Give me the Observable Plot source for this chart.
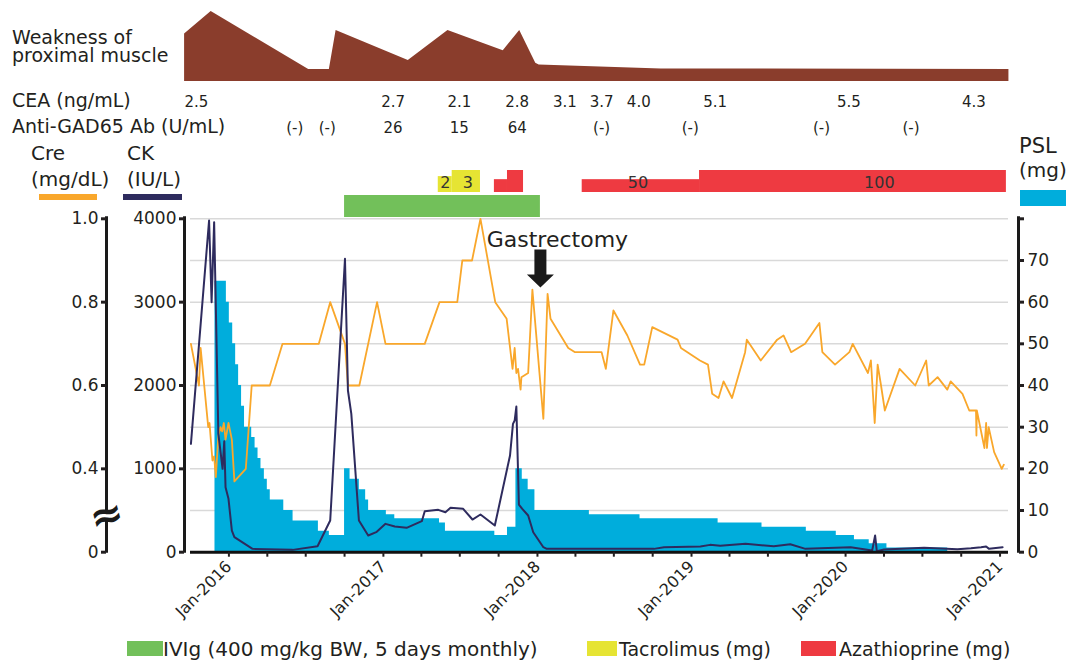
<!DOCTYPE html>
<html><head><meta charset="utf-8">
<script src="https://cdn.jsdelivr.net/npm/d3@7"></script>
<script src="https://cdn.jsdelivr.net/npm/@observablehq/plot@0.6"></script>
<style>
body{margin:0;background:#fff;}
#fig{position:relative;width:1071px;height:661px;overflow:hidden;font-family:"DejaVu Sans",sans-serif;color:#231f20;background:#fff}
.lbl{position:absolute;white-space:nowrap;line-height:1;color:#231f20;font-family:"DejaVu Sans",sans-serif}
.sw{position:absolute}
</style></head><body><div id="fig"></div>
<script>
// ---------------- DATA ----------------
const xDomain = ["2015-10-02", "2021-01-21"];

// Weakness of proximal muscle (relative score 0-10)
const weakDates = ["2015-09-18","2015-11-20","2016-07-08","2016-08-26","2016-09-11","2017-03-01","2017-06-03","2017-10-12","2017-11-20","2017-12-28","2018-01-05","2018-10-21","2021-01-22"];
const weakScore = [6.8, 10, 1.7, 1.7, 7.3, 3.0, 7.3, 4.4, 7.3, 2.6, 2.35, 1.8, 1.7];

// CEA (ng/mL)
const ceaDates = ["2015-10-16","2017-01-24","2017-06-30","2017-11-14","2018-03-07","2018-06-02","2018-08-29","2019-02-26","2020-01-09","2020-10-31"];
const ceaValues = [2.5, 2.7, 2.1, 2.8, 3.1, 3.7, 4.0, 5.1, 5.5, 4.3];

// Anti-GAD65 Ab (U/mL); null = negative
const gadDates = ["2016-06-05","2016-08-21","2017-01-24","2017-06-30","2017-11-14","2018-06-02","2018-12-29","2019-11-05","2020-06-04"];
const gadValues = [null, null, 26, 15, 64, null, null, null, null];

// Tacrolimus (mg)
const tacStart = ["2017-05-11","2017-06-13"];
const tacEnd   = ["2017-06-13","2017-08-19"];
const tacDose  = [2, 3];
const tacLabelDates = ["2017-05-28","2017-07-20"];

// Azathioprine (mg)
const azaStart = ["2017-09-21","2017-10-22","2018-04-17","2019-01-20"];
const azaEnd   = ["2017-10-22","2017-11-29","2019-01-20","2021-01-16"];
const azaDose  = [50, 100, 50, 100];
const azaLabelDates = ["2018-08-27","2020-03-21"];
const azaLabelDose  = [50, 100];

// IVIg period
const ivigStart = ["2016-10-01"];
const ivigEnd   = ["2018-01-08"];

// PSL (mg) step doses
const pslStart = ["2015-11-29","2015-12-26","2016-01-02","2016-01-10","2016-01-17","2016-01-24","2016-01-31","2016-02-07","2016-02-24","2016-03-03","2016-03-10","2016-03-17","2016-03-25","2016-04-01","2016-04-08","2016-05-10","2016-06-01","2016-07-31","2016-08-26",
 "2016-10-01","2016-10-14","2016-11-05","2016-11-20","2016-11-27","2017-01-08","2017-01-28","2017-05-14","2017-05-28","2017-09-22","2017-10-22",
 "2017-11-11","2017-11-26","2017-12-10","2017-12-26","2018-05-04","2018-09-01","2019-03-05","2019-06-17","2019-09-30","2019-12-10","2020-01-22","2020-02-26","2020-04-08"];
const pslDose = [65,60,55,50,45,40,35,30,27.5,25,22.5,20,17.5,15,12.5,10,7.5,5,4,
 20,17.5,15,12.5,10,9,8,7,5,4,6,
 20,17.5,15,10,9,8,7,6,5,4,3,2,1];
const pslStop = "2020-08-30";

// CK (IU/L)
const ckDates = ["2015-10-03","2015-11-15","2015-11-21","2015-11-27","2015-12-07","2015-12-17","2015-12-21","2015-12-24","2015-12-31","2016-01-08","2016-01-14","2016-02-26","2016-05-31","2016-07-29","2016-08-28",
 "2016-10-02","2016-10-09","2016-10-17","2016-11-04","2016-11-26","2016-12-15","2017-01-06","2017-01-28","2017-02-25","2017-04-02","2017-04-09","2017-05-11","2017-05-28","2017-06-09","2017-07-09","2017-07-31","2017-08-19","2017-09-22",
 "2017-10-28","2017-11-04","2017-11-08","2017-11-12","2017-11-18","2017-11-26","2017-12-10","2017-12-22","2018-01-15","2018-01-23","2018-10-04","2018-10-28","2019-01-22","2019-02-14","2019-03-10","2019-05-09","2019-07-15","2019-08-23","2019-09-28",
 "2020-01-13","2020-03-04","2020-03-11","2020-03-15","2020-04-01","2020-07-05","2020-09-22","2020-10-24","2020-11-17","2020-11-29","2020-12-06","2021-01-07"];
const ckValues = [1300,3980,3000,3960,1420,1000,1330,780,640,260,180,40,28,72,380,
 3520,1940,1660,380,200,240,340,308,292,372,492,508,480,532,520,392,452,320,
 1160,1540,1580,1748,572,520,440,240,60,40,40,60,68,88,76,100,72,96,40,
 60,20,200,12,32,52,36,48,60,68,40,60];

// Cre (mg/dL)
const creDates = ["2015-10-03","2015-10-22","2015-10-26","2015-11-13","2015-11-16","2015-11-23","2015-11-27","2015-12-01","2015-12-07","2015-12-12","2015-12-16","2015-12-20","2015-12-24","2015-12-31","2016-01-08","2016-01-14","2016-02-10","2016-02-24","2016-04-07","2016-05-07","2016-08-01","2016-08-28","2016-10-02","2016-10-09","2016-11-05","2016-12-17",
 "2017-01-06","2017-04-09","2017-05-14","2017-06-25","2017-07-07","2017-07-30","2017-08-19","2017-09-23","2017-10-20","2017-11-03","2017-11-08","2017-11-12","2017-11-16","2017-11-22","2017-11-24","2017-12-10","2017-12-20",
 "2018-01-15","2018-01-25","2018-02-01","2018-03-15","2018-03-31","2018-06-02","2018-06-12","2018-06-30","2018-08-02","2018-09-01","2018-09-11","2018-09-30","2018-11-29","2018-12-07",
 "2019-01-21","2019-02-09","2019-02-19","2019-03-06","2019-03-18","2019-04-07","2019-05-08","2019-05-12","2019-06-14","2019-07-23","2019-08-07","2019-08-25","2019-09-27","2019-10-31","2019-11-07","2019-12-07",
 "2020-01-10","2020-01-18","2020-02-23","2020-03-01","2020-03-10","2020-03-17","2020-03-25","2020-04-03","2020-05-08","2020-06-14","2020-07-10","2020-07-16","2020-08-06","2020-08-29","2020-09-06","2020-10-04","2020-10-20","2020-11-05","2020-11-06","2020-11-07","2020-11-25","2020-11-29","2020-12-01","2020-12-05","2020-12-18","2021-01-05","2021-01-10"];
const creValues = [0.70,0.60,0.69,0.50,0.51,0.42,0.43,0.38,0.48,0.50,0.49,0.51,0.47,0.51,0.47,0.37,0.40,0.60,0.60,0.70,0.70,0.80,0.70,0.60,0.60,0.80,
 0.70,0.70,0.80,0.80,0.90,0.90,1.00,0.80,0.76,0.64,0.69,0.63,0.64,0.59,0.62,0.63,0.83,
 0.52,0.82,0.76,0.69,0.68,0.68,0.64,0.78,0.72,0.65,0.65,0.74,0.71,0.69,
 0.66,0.65,0.58,0.57,0.61,0.57,0.68,0.71,0.66,0.71,0.72,0.68,0.70,0.75,0.68,0.65,
 0.68,0.70,0.63,0.66,0.51,0.65,0.60,0.54,0.64,0.60,0.66,0.60,0.62,0.59,0.61,0.58,0.54,0.54,0.48,0.54,0.45,0.51,0.45,0.50,0.44,0.40,0.41];

const gastrectomyDate = ["2018-01-08"];

// Axis ticks
const ckTicks  = [0, 1000, 2000, 3000, 4000];
const creTicks = [0, 0.4, 0.6, 0.8, 1.0];
const pslTicks = [0, 10, 20, 30, 40, 50, 60, 70, 80];
const yearLabels = ["2016","2017","2018","2019","2020","2021"];

// ---------------- LAYOUT / STYLE ----------------
const W = 1071, ML = 190, MR = 63;
const C = {brown:"#8A3D2C", orange:"#F9A72B", navy:"#2E2B5E", blue:"#00ADDC", green:"#72C05A", yellow:"#E6E433", red:"#EE3A41", ink:"#231f20", grid:"#d9d9d9"};
const FONT = "DejaVu Sans";
const D = s => new Date(s);
const X = {type:"utc", domain: xDomain.map(D)};
const CK_MAX = 4000, PSL_MAX = 80;
const pslToY = v => v * CK_MAX / PSL_MAX;     // PSL 0-80 shares frame with CK 0-4000
const creToY = v => v === 0 ? 0 : (v - 0.2) * 5000; // broken axis: 0.2..1.0 -> 0..4000

const fig = document.getElementById("fig");
function place(el, top) {
  el.style.position = "absolute"; el.style.left = "0px"; el.style.top = top + "px";
  el.style.background = "transparent"; el.style.overflow = "visible";
  fig.appendChild(el);
}
function label(text, left, baseline, size) {
  const d = document.createElement("div");
  d.className = "lbl"; d.textContent = text;
  d.style.fontSize = size + "px"; d.style.left = left + "px";
  d.style.top = (baseline - 0.845 * size) + "px";
  fig.appendChild(d);
  return d;
}
function swatch(color, left, top, w, h) {
  const d = document.createElement("div");
  d.className = "sw"; d.style.background = color;
  Object.assign(d.style, {left: left+"px", top: top+"px", width: w+"px", height: h+"px"});
  fig.appendChild(d);
}
const baseStyle = {fontFamily: FONT, background: "transparent", overflow: "visible", color: C.ink};

// ---- Weakness panel
const weakData = weakDates.map((d, i) => ({date: D(d), v: weakScore[i]}));
place(Plot.plot({
  width: W, height: 81, marginLeft: ML, marginRight: MR, marginTop: 11, marginBottom: 0,
  x: {...X, axis: null}, y: {domain: [0, 10], axis: null}, style: baseStyle,
  marks: [Plot.areaY(weakData, {x: "date", y: "v", fill: C.brown})]
}), 0);

// ---- CEA / GAD rows
const rowData = [
  ...ceaDates.map((d, i) => ({date: D(d), row: "CEA", text: ceaValues[i].toFixed(1)})),
  ...gadDates.map((d, i) => ({date: D(d), row: "GAD", text: gadValues[i] == null ? "(-)" : String(gadValues[i])}))
];
place(Plot.plot({
  width: W, height: 55, marginLeft: ML, marginRight: MR, marginTop: 0, marginBottom: 0,
  x: {...X, axis: null}, y: {type: "point", domain: ["CEA", "GAD"], range: [16.4, 42.8], padding: 0, axis: null}, style: baseStyle,
  marks: [Plot.text(rowData, {x: "date", y: "row", text: "text", fontSize: 15, fill: C.ink})]
}), 85);

// ---- Tacrolimus / Azathioprine bars
const drugRects = [
  ...tacStart.map((s, i) => ({x1: D(s), x2: D(tacEnd[i]), rel: tacDose[i] / d3.max(tacDose), fill: C.yellow})),
  ...azaStart.map((s, i) => ({x1: D(s), x2: D(azaEnd[i]), rel: azaDose[i] / d3.max(azaDose), fill: C.red}))
];
const drugLabels = [
  ...tacLabelDates.map((d, i) => ({date: D(d), text: String(tacDose[i])})),
  ...azaLabelDates.map((d, i) => ({date: D(d), text: String(azaLabelDose[i])}))
];
place(Plot.plot({
  width: W, height: 22, marginLeft: ML, marginRight: MR, marginTop: 0, marginBottom: 0,
  x: {...X, axis: null}, y: {domain: [-0.2, 1], axis: null}, style: baseStyle,
  marks: [
    Plot.rect(drugRects, {x1: "x1", x2: "x2", y1: -0.2, y2: "rel", fill: d => d.fill}),
    Plot.text(drugLabels, {x: "date", text: "text", frameAnchor: "bottom", dy: -5, fontSize: 16, fill: "#333"})
  ]
}), 170);

// ---- IVIg bar
place(Plot.plot({
  width: W, height: 22, marginLeft: ML, marginRight: MR, marginTop: 0, marginBottom: 0,
  x: {...X, axis: null}, style: baseStyle,
  marks: [Plot.rect(ivigStart.map((s, i) => ({x1: D(s), x2: D(ivigEnd[i])})), {x1: "x1", x2: "x2", fill: C.green})]
}), 195);

// ---- Main chart
const pslData = [
  ...pslStart.map((s, i) => ({date: D(s), dose: pslDose[i]})),
  {date: D(pslStop), dose: pslDose[pslDose.length - 1]}
];
const ckData = ckDates.map((d, i) => ({date: D(d), v: ckValues[i]}));
const creData = creDates.map((d, i) => ({date: D(d), v: creValues[i]}));
const quarterTicks = d3.utcMonth.every(3).range(D("2016-01-01"), D("2021-01-02"));
const creLabel = new Map(creTicks.map(v => [creToY(v), v === 0 ? "0" : v.toFixed(1)]));
const blockArrow = {draw(ctx, l) {
  const sw = 6, hw = 13.5, hl = 13;
  ctx.moveTo(-sw, 0); ctx.lineTo(-sw, -l + hl); ctx.lineTo(-hw, -l + hl); ctx.lineTo(0, -l);
  ctx.lineTo(hw, -l + hl); ctx.lineTo(sw, -l + hl); ctx.lineTo(sw, 0); ctx.closePath();
}};
const H = 440, TOP = 200;
const x0 = [D(xDomain[0])], x1 = [D(xDomain[1])];
place(Plot.plot({
  width: W, height: H, marginLeft: ML, marginRight: MR, marginTop: 18.3, marginBottom: H - (551.7 - TOP),
  x: X, y: {domain: [0, CK_MAX]}, style: baseStyle,
  marks: [
    Plot.ruleY(d3.range(500, CK_MAX + 1, 500), {stroke: C.grid, strokeWidth: 1.5}),
    Plot.areaY(pslData, {x: "date", y: d => pslToY(d.dose), curve: "step-after", fill: C.blue}),
    Plot.line(creData, {x: "date", y: d => creToY(d.v), stroke: C.orange, strokeWidth: 1.8}),
    Plot.line(ckData, {x: "date", y: "v", stroke: C.navy, strokeWidth: 2}),
    Plot.ruleY([0], {stroke: "#111", strokeWidth: 3}),
    // axis lines
    Plot.ruleX(x0, {dx: -6, stroke: "#1a1a1a", strokeWidth: 3, insetTop: -2, insetBottom: -1}),
    Plot.ruleX(x0, {dx: -84, stroke: "#1a1a1a", strokeWidth: 3, insetTop: -2, insetBottom: -1}),
    Plot.ruleX(x1, {dx: 10, stroke: "#1a1a1a", strokeWidth: 3, insetTop: -2, insetBottom: -1}),
    // axis break on Cre axis
    Plot.ruleX(x0, {y1: 400, y2: 480, dx: -84, stroke: "white", strokeWidth: 6}),
    Plot.text(x0, {x: d => d, y: () => 440, text: () => "≈", dx: -84, fontSize: 40, fontWeight: "bold", rotate: -15, fill: "#1a1a1a"}),
    Plot.axisY({anchor: "left", ticks: ckTicks, tickFormat: d => String(d), dx: -6, tickSize: 5, tickPadding: 3, strokeWidth: 3, fontSize: 17, label: null}),
    Plot.axisY({anchor: "left", ticks: creTicks.map(creToY), tickFormat: d => creLabel.get(d), dx: -84, tickSize: 5, tickPadding: 3, strokeWidth: 3, fontSize: 17, label: null}),
    Plot.axisY({anchor: "right", ticks: pslTicks.map(pslToY), tickFormat: d => d === CK_MAX ? "" : String(d * PSL_MAX / CK_MAX), dx: 10, tickSize: 5, tickPadding: 4, strokeWidth: 3, fontSize: 17, label: null}),
    Plot.axisX({ticks: quarterTicks, tickFormat: d => d.getUTCMonth() === 0 && yearLabels.includes(String(d.getUTCFullYear())) ? "Jan-" + d.getUTCFullYear() : "", tickRotate: -45, tickSize: 5, strokeWidth: 2, fontSize: 16, label: null}),
    // gastrectomy
    Plot.vector(gastrectomyDate, {x: D, y: () => 3176, length: 38, rotate: 180, anchor: "end", shape: blockArrow, fill: "#1a1a1a", stroke: "none"}),
    Plot.text(gastrectomyDate, {x: D, y: () => 3744, text: () => "Gastrectomy", dx: 17, fontSize: 22, fill: C.ink})
  ]
}), TOP);

// ---- HTML labels
const weakLbl = label("", 12, 43.7, 19);
weakLbl.style.lineHeight = "18px";
weakLbl.style.top = (43.7 - 15.55) + "px";
weakLbl.innerHTML = "Weakness of<br>proximal muscle";
label("CEA (ng/mL)", 12, 106.7, 19);
label("Anti-GAD65 Ab (U/mL)", 12, 132.7, 19);
label("Cre", 31, 160, 20);
label("(mg/dL)", 31, 186, 20);
label("CK", 127, 160, 20);
label("(IU/L)", 127, 186, 20);
swatch(C.orange, 38.6, 194, 58.4, 6);
swatch(C.navy, 123, 194, 59, 6);
label("PSL", 1019, 153.3, 21);
label("(mg)", 1019, 176.7, 20);
swatch(C.blue, 1020, 190, 46, 16);
// bottom legend
swatch(C.green, 127, 641, 36, 15);
label("IVIg (400 mg/kg BW, 5 days monthly)", 163, 655.7, 20);
swatch(C.yellow, 587, 641, 30, 15);
label("Tacrolimus (mg)", 619, 655.7, 19);
swatch(C.red, 801, 641, 35, 15);
label("Azathioprine (mg)", 839, 655.7, 19);
</script></body></html>
